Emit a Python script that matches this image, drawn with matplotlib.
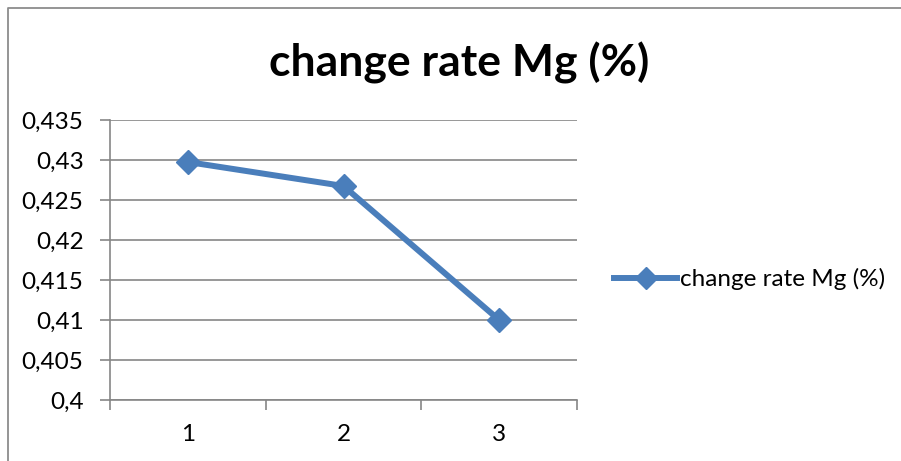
import matplotlib
matplotlib.use('Agg')
import matplotlib.pyplot as plt
from matplotlib.lines import Line2D

plt.rcParams['font.family'] = ['Lato', 'DejaVu Sans']

categories = [1, 2, 3]
values = [0.42975, 0.42675, 0.41]
y_ticks = [0.4, 0.405, 0.41, 0.415, 0.42, 0.425, 0.43, 0.435]
y_labels = ['0,4', '0,405', '0,41', '0,415', '0,42', '0,425', '0,43', '0,435']
series_name = 'change rate Mg (%)'

W, H = 901, 461
blue = '#4a7ebb'
grey = '#868686'

fig = plt.figure(figsize=(W / 100, H / 100), dpi=100)
fig.patch.set_facecolor('white')

# chart border: only the top and left edges fall inside the image
fig.add_artist(Line2D([8 / W, 8 / W, 1.05], [-0.05, 1 - 8 / H, 1 - 8 / H],
                      transform=fig.transFigure, color='#8c8c8c', linewidth=1.3))

ax = fig.add_axes([110 / W, 1 - 400 / H, (577 - 110) / W, (400 - 120) / H])
ax.plot(categories, values, color=blue, linewidth=4.3, marker='D', markersize=12,
        markerfacecolor=blue, markeredgecolor=blue, solid_capstyle='round')

ax.set_xlim(0.5, 3.5)
ax.set_ylim(0.4, 0.435)
ax.set_yticks(y_ticks)
ax.set_yticklabels(y_labels)
ax.set_xticks([0.5, 1.5, 2.5, 3.5])
ax.set_xticklabels([])
ax.set_xticks(categories, minor=True)
ax.set_xticklabels([str(c) for c in categories], minor=True)
ax.tick_params(axis='x', which='minor', length=0, pad=17, labelsize=17.5)
ax.tick_params(axis='x', which='major', length=7, color=grey, direction='out', width=1.2)
ax.tick_params(axis='y', length=7, color=grey, width=1.2, pad=12, labelsize=17.5)

ax.grid(axis='y', color=grey, linewidth=1.2)
ax.set_axisbelow(True)
for s in ['top', 'right']:
    ax.spines[s].set_visible(False)
for s in ['left', 'bottom']:
    ax.spines[s].set_color(grey)
    ax.spines[s].set_linewidth(1.2)

fig.text(459 / W, 1 - 63 / H, series_name, ha='center', va='center',
         fontsize=32, fontweight='bold')

handle = Line2D([], [], color=blue, linewidth=4.3, marker='D', markersize=11)
fig.legend([handle], [series_name], loc='center left',
           bbox_to_anchor=(614 / W, 1 - 279 / H), frameon=False,
           fontsize=17.5, handlelength=2.6, handletextpad=0.1, borderaxespad=0,
           borderpad=0)

fig.savefig('out.png', dpi=100)
